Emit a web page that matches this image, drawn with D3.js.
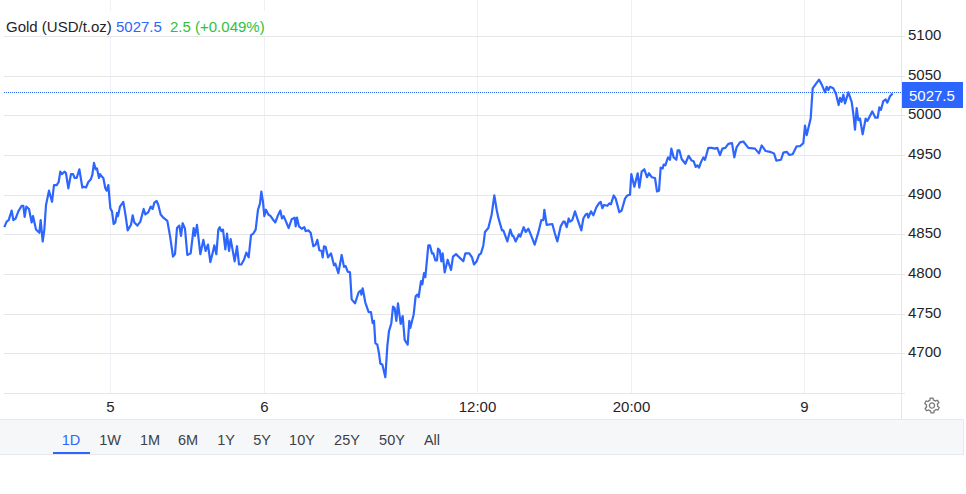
<!DOCTYPE html>
<html><head><meta charset="utf-8">
<script src="https://cdn.jsdelivr.net/npm/d3@7"></script>
<style>html,body{margin:0;padding:0;background:#fff}svg{display:block;font-family:"Liberation Sans",Arial,sans-serif}</style>
</head><body><div id="c"></div>
<script>
const instrument="Gold (USD/t.oz)";
const lastPrice=5027.5;
const changeText="2.5 (+0.049%)";
const priceTicks=[5100,5050,5000,4950,4900,4850,4800,4750,4700,4650];
const priceTickLabels=["5100","5050","5000","4950","4900","4850","4800","4750","4700",""];
const timeTicks=[330,792,1431,1893,2412];
const timeTickLabels=["5","6","12:00","20:00","9"];
const ranges=["1D","1W","1M","6M","1Y","5Y","10Y","25Y","50Y","All"];
const sessionMinute=[13,20,26,35,40,47,55,65,70,74,79,87,95,99,108,118,122,128,133,138,147,156,162,170,176,181,186,194,198,205,213,219,224,230,238,247,252,258,265,272,277,282,287,291,297,300,305,310,316,320,325,331,336,341,346,351,354,360,370,377,383,390,393,398,403,412,421,431,436,445,452,458,463,470,475,482,490,502,510,519,525,531,538,543,548,555,562,572,581,585,591,601,610,617,624,631,637,643,649,655,659,664,669,676,681,687,692,704,711,717,724,732,739,746,753,760,767,774,780,784,789,793,798,805,812,820,826,833,841,846,851,858,866,875,884,887,891,897,905,913,917,925,932,940,947,952,958,
965,968,972,977,984,993,1002,1006,1015,1025,1032,1037,1043,1050,1055,1065,1076,1082,1084,1088,1096,1106,1113,1118,1122,1126,1132,1137,1141,1147,1156,1162,1167,1174,1179,1184,1189,1194,1202,1208,1214,1223,1228,1231,1241,1247,1252,1256,1263,1267,1272,1276,1285,1290,1296,1300,1306,1311,1314,1319,1324,1328,1334,1343,1353,1359,1368,1378,1390,1396,1408,1416,1422,1430,1437,1443,1450,1455,1465,1475,1483,1490,1495,1506,1510,1522,1531,1537,1540,1547,1557,1561,1571,1577,1585,1594,1604,1616,1624,1630,1633,1640,1657,1664,1672,1682,1690,1694,1700,1706,1710,1717,1725,1735,1744,1750,1757,1762,1765,1773,1780,1789,1797,1802,1807,1812,1822,1828,1833,1841,
1847,1858,1865,1875,1882,1890,1894,1903,1913,1918,1925,1933,1941,1947,1955,1965,1971,1977,1982,1988,1991,1996,2004,2010,2014,2021,2029,2033,2038,2045,2056,2066,2075,2081,2087,2092,2097,2103,2110,2115,2125,2135,2145,2152,2160,2167,2176,2185,2196,2203,2210,2220,2230,2245,2265,2277,2285,2297,2310,2322,2329,2343,2350,2360,2368,2378,2390,2400,2410,2415,2420,2432,2438,2445,2457,2465,2475,2480,2485,2490,2500,2508,2516,2520,2525,2530,2535,2545,2555,2560,2565,2570,2575,2580,2588,2597,2602,2617,2626,2633,2638,2643,2650,2657,2662,2670,2678];
const price=[4859,4866,4868,4880,4868,4870,4879,4886,4886,4872,4885,4882,4865,4873,4856,4852,4868,4841,4856,4887,4905,4891,4912,4912,4916,4929,4926,4929,4927,4908,4926,4926,4921,4921,4932,4909,4910,4909,4916,4919,4925,4940,4932,4933,4921,4926,4923,4921,4908,4905,4912,4883,4879,4863,4865,4877,4873,4885,4891,4873,4855,4860,4862,4874,4865,4861,4866,4882,4875,4878,4885,4882,4890,4892,4887,4875,4871,4867,4848,4822,4825,4858,4861,4848,4864,4857,4824,4826,4858,4848,4862,4825,4843,4829,4837,4815,4825,4836,4825,4856,4859,4854,4856,4831,4851,4829,4844,4816,4835,4812,4812,4818,4827,4821,4849,4851,4856,4881,4889,4904,4891,4873,4881,4875,4873,4868,4865,4873,4880,4870,4873,4866,4858,4869,4871,4860,4871,4860,4857,4859,4854,4855,4852,4835,4837,4843,4830,
4829,4821,4835,4834,4821,4826,4811,4813,4801,4824,4809,4810,4803,4802,4768,4763,4777,4779,4774,4782,4764,4752,4752,4738,4741,4713,4711,4700,4687,4686,4670,4709,4728,4738,4759,4757,4741,4763,4737,4747,4717,4711,4741,4732,4749,4772,4774,4771,4791,4787,4801,4796,4836,4836,4826,4826,4817,4817,4832,4830,4816,4826,4802,4818,4805,4822,4825,4821,4816,4826,4826,4821,4812,4816,4824,4826,4836,4853,4858,4875,4899,4881,4871,4855,4855,4841,4856,4848,4848,4841,4850,4847,4859,4853,4857,4848,4837,4854,4868,4868,4881,4862,4863,4852,4841,4860,4866,4866,4859,4870,4866,4868,4879,4866,4855,4870,4875,4876,4871,4879,4874,4884,4889,4891,4883,4887,4886,4889,4888,4899,
4895,4878,4880,4895,4899,4900,4926,4910,4927,4909,4929,4932,4922,4927,4922,4921,4904,4905,4934,4933,4938,4937,4947,4944,4958,4947,4944,4956,4956,4945,4939,4949,4943,4942,4935,4937,4934,4941,4947,4944,4959,4959,4958,4959,4950,4958,4959,4964,4965,4947,4960,4966,4967,4959,4958,4952,4962,4955,4954,4952,4943,4944,4953,4954,4950,4951,4961,4961,4965,4987,4975,4996,5034,5038,5045,5039,5029,5036,5032,5036,5034,5027,5013,5022,5017,5026,5015,5029,5017,5002,4982,5009,4994,4996,4976,4996,4993,5005,4997,4997,5010,5007,5018,5020,5016,5024,5027.5];

const W=966,H=494,blue="#2d66ff",grid="#e6e6e6",vgrid="#edf0f5",ink="#1f2328";
const svg=d3.select("#c").append("svg").attr("width",W).attr("height",H);
const x=d3.scaleLinear().domain([0,2703]).range([0,901]);
const y=d3.scaleLinear().domain([4650,5100]).range([393,36]);
const snap=v=>Math.round(v)+.5;

// vertical grid + time axis
const xg=svg.append("g").attr("transform","translate(0,393)")
  .call(d3.axisBottom(x).tickValues(timeTicks).tickSize(-393).tickPadding(8).tickFormat((d,i)=>timeTickLabels[i]));
xg.select(".domain").remove();
xg.selectAll("line").attr("stroke",vgrid);
xg.selectAll("text").attr("fill",ink).attr("dy","0.75em").style("font-size","15px").style("font-family","inherit");

// title backdrop
svg.append("rect").attr("x",4).attr("y",11).attr("width",266).attr("height",25).attr("fill","#fff");

// horizontal grid + price axis
const yg=svg.append("g").attr("transform","translate(901,0)")
  .call(d3.axisRight(y).tickValues(priceTicks).tickSize(0).tickPadding(7).tickFormat((d,i)=>priceTickLabels[i]));
yg.select(".domain").remove();
yg.selectAll(".tick").attr("transform",d=>`translate(0,${snap(y(d))-.5})`);
yg.selectAll("line").attr("x1",-897).attr("x2",4).attr("y1",.5).attr("y2",.5).attr("stroke",grid);
yg.selectAll("text").attr("fill",ink).attr("dy","0.25em").style("font-size","15px").style("font-family","inherit").attr("text-anchor","start");

// axis frame
svg.append("line").attr("x1",901.5).attr("x2",901.5).attr("y1",0).attr("y2",420).attr("stroke",grid);

// series
const points=sessionMinute.map((m,i)=>[m,price[i]]);
svg.append("path").datum(points).attr("fill","none").attr("stroke",blue).attr("stroke-width",2.2)
  .attr("stroke-linejoin","round")
  .attr("d",d3.line().x(d=>x(d[0])).y(d=>y(d[1])));

// last price
const ly=Math.floor(y(lastPrice))-.5;
svg.append("line").attr("x1",4).attr("x2",902).attr("y1",ly).attr("y2",ly).attr("stroke",blue)
  .attr("stroke-width",1).attr("stroke-dasharray","1 1");
svg.append("rect").attr("x",902).attr("y",82).attr("width",61).attr("height",26).attr("fill",blue);
svg.append("text").attr("x",909).attr("y",100.5).attr("fill","#fff").style("font-size","15px").text(d3.format(".1f")(lastPrice));

// legend
const leg=svg.append("text").attr("x",6).attr("y",32).style("font-size","15px");
leg.append("tspan").attr("fill",ink).text(instrument);
leg.append("tspan").attr("x",116).attr("fill",blue).text(lastPrice);
leg.append("tspan").attr("x",170).attr("fill","#2fc13c").text(changeText);

// range bar
svg.append("rect").attr("x",0).attr("y",420).attr("width",963).attr("height",34).attr("fill","#f6f7f9");
svg.append("path").attr("d",d3.line()([[0,419.5],[963.5,419.5],[963.5,454.5],[0,454.5]])).attr("fill","none").attr("stroke","#e6e8ec");
const rangeCenters=d3.scaleOrdinal().domain(ranges).range([71,110,150,188,226,262,302,347,392,432]);
svg.append("g").selectAll("text").data(ranges).join("text")
  .attr("x",d=>rangeCenters(d)).attr("y",445).attr("text-anchor","middle")
  .attr("fill",(d,i)=>i===0?blue:"#3b4149").style("font-size","14.5px").text(d=>d);
svg.append("rect").attr("x",53).attr("y",452).attr("width",37).attr("height",2).attr("fill",blue);

// settings gear
const gear=svg.append("g").attr("transform","translate(932,405.5)").attr("fill","none").attr("stroke","#777").attr("stroke-width",1.3);
const gearPts=d3.range(48).map(i=>{const a=i/48*2*Math.PI,k=(i+2)%8;return [a,k<4?7.4:5.6];});
gear.append("path").attr("d",d3.lineRadial().angle(d=>d[0]).radius(d=>d[1]).curve(d3.curveLinearClosed)(gearPts));
gear.append("circle").attr("r",2.6);
</script></body></html>
